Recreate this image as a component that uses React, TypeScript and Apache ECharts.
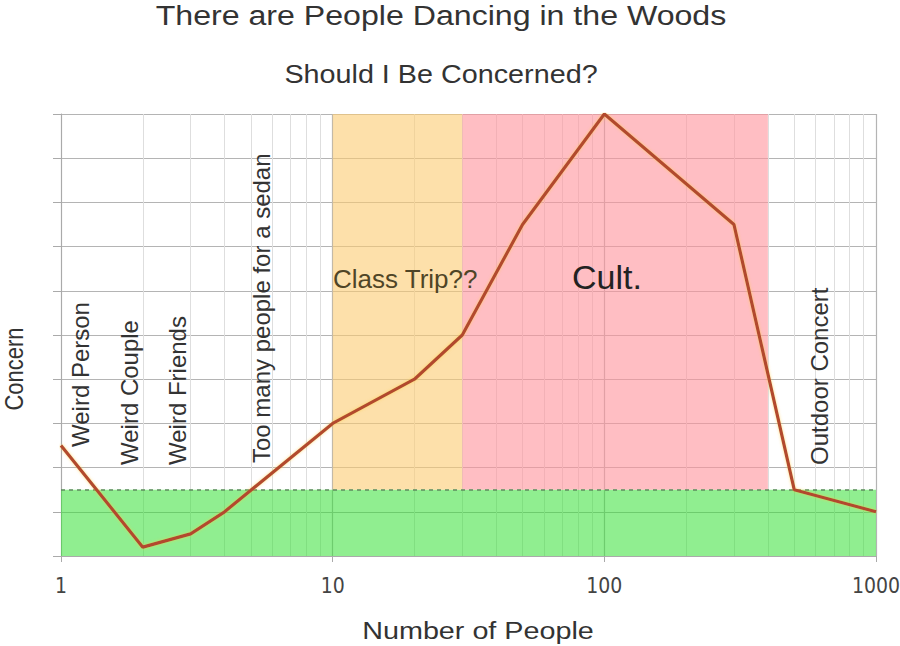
import React, { useEffect, useRef } from 'react';
import * as echarts from 'echarts';

const peopleCounts = [1, 2, 3, 4, 10, 20, 30, 50, 100, 300, 500, 1000];
const concernLevels = [2.5, 0.2, 0.5, 1.0, 3.0, 4.0, 5.0, 7.5, 10, 7.5, 1.5, 1.0];
const minorGridValues = [2, 3, 4, 5, 6, 7, 8, 9, 20, 30, 40, 50, 60, 70, 80, 90, 200, 300, 400, 500, 600, 700, 800, 900];
const safeLevel = 1.5;
const classTripRange = [10, 30];
const cultRange = [30, 400];
const concernMax = 10;

const FONT = "'Liberation Sans', Arial, Helvetica, sans-serif";

function hText(text: string, x: number, y: number, fontSize: number, fill: string, align: string, scaleX = 1) {
  return {
    type: 'text', x, y, scaleX, silent: true, z: 20,
    style: { text, fontSize, fontFamily: FONT, fill, align, verticalAlign: 'middle', textAlign: align, textVerticalAlign: 'middle' },
  };
}
function vText(text: string, x: number, y: number, fontSize: number, fill: string, align = 'left', scaleY = 1) {
  return {
    type: 'text', x, y, rotation: Math.PI / 2, scaleY, silent: true, z: 20,
    style: { text, fontSize, fontFamily: FONT, fill, align, verticalAlign: 'middle', textAlign: align, textVerticalAlign: 'middle' },
  };
}

export default function App() {
  const ref = useRef<HTMLDivElement>(null);
  useEffect(() => {
    document.body.style.margin = '0';
    const chart = echarts.init(ref.current!, null, { renderer: 'svg' });
    const option: any = {
      animation: false,
      backgroundColor: '#ffffff',
      grid: { left: 61, right: 24, top: 114, bottom: 90, containLabel: false, outerBoundsMode: 'none' },
      xAxis: {
        type: 'log', logBase: 10, min: 1, max: 1000,
        axisLine: { show: true, lineStyle: { color: '#aaaaaa', width: 1 } },
        axisTick: { show: true, length: 6, lineStyle: { color: '#aaaaaa' } },
        axisLabel: {
          color: '#444444', fontSize: 21, margin: 19,
          fontFamily: "'DejaVu Sans Condensed', 'DejaVu Sans', sans-serif",
          formatter: (v: number) => String(Math.round(v)),
        },
        splitLine: { show: true, lineStyle: { color: '#b4b4b4', width: 1.2 } },
      },
      yAxis: {
        type: 'value', min: 0, max: concernMax, interval: 1,
        axisLine: { show: true, lineStyle: { color: '#aaaaaa', width: 1 } },
        axisTick: { show: true, length: 8, lineStyle: { color: '#aaaaaa' } },
        axisLabel: { show: false },
        splitLine: { show: true, lineStyle: { color: '#b4b4b4', width: 1.2 } },
      },
      series: [
        {
          type: 'line', data: [], silent: true, z: 1,
          markLine: {
            z: 1, silent: true, symbol: 'none', label: { show: false },
            lineStyle: { color: '#dedede', width: 1, type: 'solid' },
            data: minorGridValues.map((v) => ({ xAxis: v })),
          },
          markArea: {
            z: 2, silent: true,
            data: [
              [{ xAxis: 1, yAxis: 0, itemStyle: { color: 'rgba(53,224,53,0.55)' } }, { xAxis: 1000, yAxis: safeLevel }],
              [{ xAxis: classTripRange[0], yAxis: safeLevel, itemStyle: { color: 'rgba(252,203,113,0.6)' } }, { xAxis: classTripRange[1], yAxis: concernMax }],
              [{ xAxis: cultRange[0], yAxis: safeLevel, itemStyle: { color: 'rgba(255,147,155,0.6)' } }, { xAxis: cultRange[1], yAxis: concernMax }],
            ],
          },
        },
        {
          type: 'line', data: [], silent: true, z: 3,
          markLine: {
            z: 3, silent: true, symbol: 'none', label: { show: false },
            lineStyle: { color: '#5e8a5e', width: 1.5, type: [4, 4] },
            data: [{ yAxis: safeLevel }],
          },
        },
        {
          type: 'line', z: 10, showSymbol: false, silent: true,
          data: peopleCounts.map((x, i) => [x, concernLevels[i]]),
          lineStyle: { color: '#b24a2e', width: 3.2, shadowColor: 'rgba(255,200,60,0.6)', shadowBlur: 3 },
        },
      ],
      graphic: [
        hText('There are People Dancing in the Woods', 441, 15, 27, '#333333', 'center', 1.19),
        hText('Should I Be Concerned?', 441, 75, 25, '#333333', 'center', 1.15),
        hText('Number of People', 478, 631, 23, '#333333', 'center', 1.25),
        vText('Concern', 14, 369, 22, '#333333', 'center', 1.2),
        vText('Weird Person', 80, 447, 24, '#333333'),
        vText('Weird Couple', 129, 465, 24, '#333333'),
        vText('Weird Friends', 177, 465, 24, '#333333'),
        vText('Too many people for a sedan', 261, 463, 24, '#333333'),
        vText('Outdoor Concert', 819, 465, 24, '#333333'),
        hText('Class Trip??', 333, 279, 26, '#4f4526', 'left'),
        hText('Cult.', 572, 277, 34, '#222222', 'left'),
      ],
    };
    chart.setOption(option);
    return () => chart.dispose();
  }, []);
  return <div ref={ref} style={{ width: 900, height: 646 }} />;
}
